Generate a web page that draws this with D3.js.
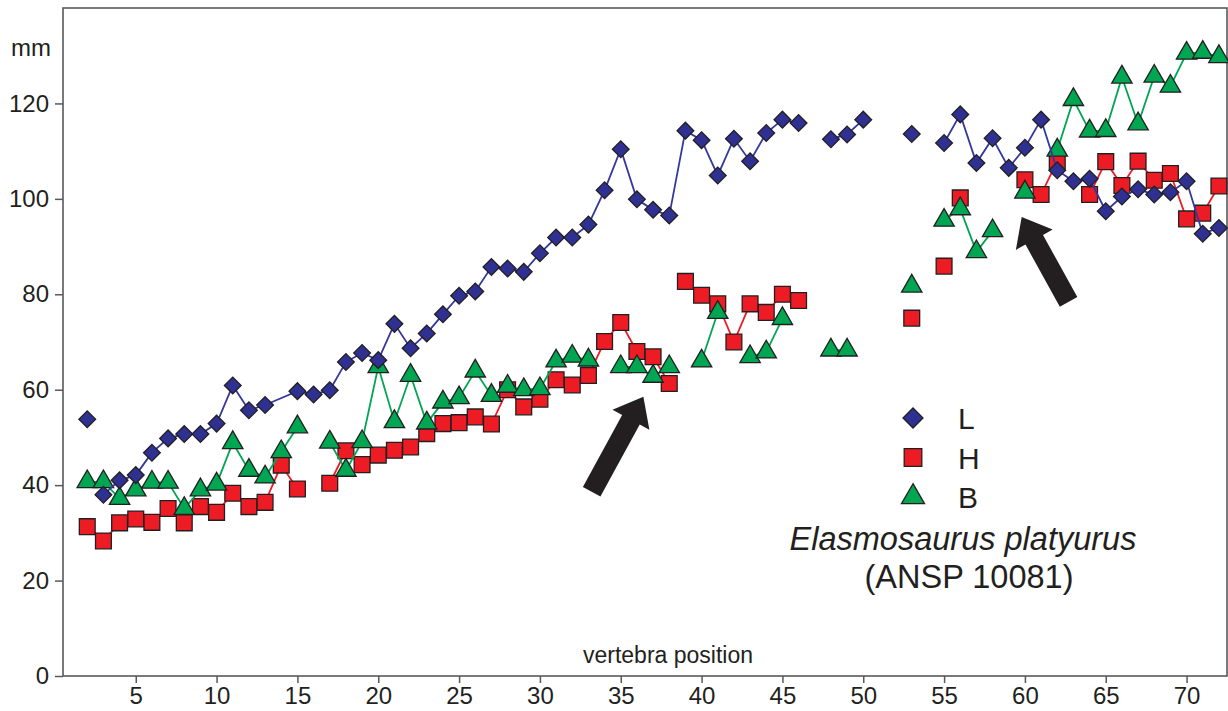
<!DOCTYPE html>
<html>
<head>
<meta charset="utf-8">
<script src="https://cdn.jsdelivr.net/npm/d3@7"></script>
<style>
  body { margin: 0; background: #fff; }
  svg { display: block; }
  text { font-family: "Liberation Sans", Arial, sans-serif; fill: #231f20; }
</style>
</head>
<body>
<svg id="chart"></svg>
<script>
// ---- data (vertebra position 2..72, mm) ----
const positions = d3.range(2, 73);

const valuesL = [
  53.8, 38.0, 41.0, 42.1, 46.8, 49.8, 50.7, 50.7, 52.9, 60.9,
  55.7, 56.8, null, 59.7, 59.0, 59.9, 65.8, 67.7, 66.2, 73.8,
  68.7, 71.8, 75.8, 79.7, 80.6, 85.7, 85.4, 84.7, 88.6, 91.9,
  91.9, 94.6, 101.8, 110.4, 99.9, 97.7, 96.5, 114.3, 112.3, 104.9,
  112.6, 107.9, 113.8, 116.6, 115.9, null, 112.5, 113.5, 116.6, null,
  null, 113.6, null, 111.7, 117.7, 107.5, 112.7, 106.5, 110.7, 116.6,
  106.0, 103.7, 104.2, 97.4, 100.5, 102.0, 100.9, 101.4, 103.7, 92.7,
  93.9
];
const valuesH = [
  31.3, 28.3, 32.1, 32.9, 32.2, 35.1, 32.1, 35.5, 34.3, 38.3,
  35.5, 36.4, 44.2, 39.2, null, 40.4, 47.2, 44.3, 46.3, 47.3,
  48.0, 50.8, 52.9, 53.1, 54.3, 52.8, 60.0, 56.4, 58.0, 62.1,
  61.0, 63.0, 70.1, 74.1, 68.0, 66.9, 61.3, 82.7, 79.8, 78.0,
  70.0, 78.0, 76.2, 80.0, 78.7, null, null, null, null, null,
  null, 75.0, null, 85.9, 100.2, null, null, null, 104.0, 100.9,
  107.9, null, 100.9, 107.8, 102.8, 107.9, 103.9, 105.3, 95.8, 97.0,
  102.7
];
const valuesB = [
  40.7, 40.7, 37.2, 39.0, 40.6, 40.6, 35.1, 39.0, 40.2, 48.9,
  43.1, 41.7, 47.0, 52.2, null, 49.0, 43.1, 49.1, 64.8, 53.3,
  63.0, 53.0, 57.4, 58.3, 63.9, 58.8, 60.7, 60.0, 60.2, 66.0,
  67.0, 66.2, null, 64.8, 64.8, 62.8, 64.8, null, 66.0, 76.2,
  null, 66.9, 67.9, 74.9, null, null, 68.3, 68.3, null, null,
  null, 81.7, null, 95.5, 97.9, 88.9, 93.3, null, 101.4, null,
  110.2, 120.8, 114.2, 114.3, 125.5, 115.7, 125.7, 123.6, 130.5, 130.7,
  129.8
];

// positions after which the connecting line stops
const breaksL = [2, 46, 50, 53];
const breaksH = [15, 38, 46, 53, 55, 56, 62];
const breaksB = [15, 33, 38, 41, 45, 49, 53, 58, 60];

const xTicks = [5, 10, 15, 20, 25, 30, 35, 40, 45, 50, 55, 60, 65, 70];
const yTicks = [0, 20, 40, 60, 80, 100, 120];

// arrows: [fromPos, fromMM, toPos, toMM]
const arrows = [
  [33.2, 38.6, 36.4, 58.5],
  [62.7, 78.4, 59.8, 96.2]
];

// ---- layout ----
const width = 1228;
const height = 711;
const margin = { top: 8, right: 1, bottom: 35, left: 63 };

const svg = d3.select("#chart")
  .attr("width", width)
  .attr("height", height);

const x = d3.scaleLinear()
  .domain([0.5, 72.5])
  .range([margin.left, width - margin.right]);

const y = d3.scaleLinear()
  .domain([0, 140])
  .range([height - margin.bottom, margin.top]);

// frame
svg.append("rect")
  .attr("x", margin.left)
  .attr("y", margin.top)
  .attr("width", width - margin.right - margin.left)
  .attr("height", height - margin.bottom - margin.top)
  .attr("fill", "none")
  .attr("stroke", "#58595b")
  .attr("stroke-width", 1.6);

// axes
const xAxis = svg.append("g")
  .attr("transform", `translate(0,${height - margin.bottom})`)
  .call(d3.axisBottom(x).tickValues(xTicks).tickSize(7).tickPadding(4));

const yAxis = svg.append("g")
  .attr("transform", `translate(${margin.left},0)`)
  .call(d3.axisLeft(y).tickValues(yTicks).tickSize(8).tickPadding(6));

[xAxis, yAxis].forEach(a => {
  a.select(".domain").remove();
  a.selectAll(".tick line").attr("stroke", "#58595b").attr("stroke-width", 1.5);
  a.selectAll(".tick text")
    .attr("font-family", "Liberation Sans, Arial, sans-serif")
    .attr("font-size", 24)
    .attr("fill", "#231f20");
});

svg.append("text")
  .attr("x", 11)
  .attr("y", 56)
  .attr("font-size", 24)
  .text("mm");

svg.append("text")
  .attr("x", 668)
  .attr("y", 663)
  .attr("text-anchor", "middle")
  .attr("font-size", 23)
  .text("vertebra position");

// ---- series ----
const diamond = d3.symbol(d3.symbolSquare, 140)();
const square = d3.symbol(d3.symbolSquare, 250)();
const triangle = d3.symbol(d3.symbolTriangle, 180)();

const series = [
  { key: "H", values: valuesH, breaks: breaksH, fill: "#ed1c24", line: "#ed1c24", shape: square, rot: 0 },
  { key: "B", values: valuesB, breaks: breaksB, fill: "#00a651", line: "#00a651", shape: triangle, rot: 0 },
  { key: "L", values: valuesL, breaks: breaksL, fill: "#2e3192", line: "#34389c", shape: diamond, rot: 45 }
];

const line = d3.line()
  .x(d => x(d.pos))
  .y(d => y(d.val));

series.forEach(s => {
  const pts = positions
    .map((p, i) => ({ pos: p, val: s.values[i] }))
    .filter(d => d.val != null);

  // split into runs at the break positions
  const runs = [];
  let cur = [];
  pts.forEach(d => {
    cur.push(d);
    if (s.breaks.includes(d.pos)) { runs.push(cur); cur = []; }
  });
  if (cur.length) runs.push(cur);

  const g = svg.append("g").attr("class", "series-" + s.key);

  g.selectAll("path.run")
    .data(runs.filter(r => r.length > 1))
    .join("path")
    .attr("class", "run")
    .attr("d", line)
    .attr("fill", "none")
    .attr("stroke", s.line)
    .attr("stroke-width", 1.8);

  g.selectAll("path.mark")
    .data(pts)
    .join("path")
    .attr("class", "mark")
    .attr("d", s.shape)
    .attr("transform", d => `translate(${x(d.pos)},${y(d.val)}) rotate(${s.rot})`)
    .attr("fill", s.fill)
    .attr("stroke", "#231f20")
    .attr("stroke-width", 1.3);
});

// ---- arrows ----
function arrowPath(x0, y0, x1, y1) {
  const dx = x1 - x0, dy = y1 - y0;
  const len = Math.hypot(dx, dy);
  const ux = dx / len, uy = dy / len;
  const px = -uy, py = ux;
  const shaft = 10, head = 21, headLen = 26;
  const bx = x1 - ux * headLen, by = y1 - uy * headLen;
  const pts = [
    [x0 + px * shaft, y0 + py * shaft],
    [bx + px * shaft, by + py * shaft],
    [bx + px * head, by + py * head],
    [x1, y1],
    [bx - px * head, by - py * head],
    [bx - px * shaft, by - py * shaft],
    [x0 - px * shaft, y0 - py * shaft]
  ];
  return "M" + pts.map(p => p.join(",")).join("L") + "Z";
}

svg.append("g")
  .selectAll("path")
  .data(arrows)
  .join("path")
  .attr("d", a => arrowPath(x(a[0]), y(a[1]), x(a[2]), y(a[3])))
  .attr("fill", "#231f20");

// ---- legend ----
const legend = svg.append("g").attr("transform", "translate(913,418)");
const legendOrder = ["L", "H", "B"];

const items = legend.selectAll("g")
  .data(legendOrder.map(k => series.find(s => s.key === k)))
  .join("g")
  .attr("transform", (d, i) => `translate(0,${i * 39.5})`);

items.append("path")
  .attr("d", d => d.key === "L" ? d3.symbol(d3.symbolSquare, 200)()
                : d.key === "H" ? d3.symbol(d3.symbolSquare, 310)()
                : d3.symbol(d3.symbolTriangle, 230)())
  .attr("transform", d => `rotate(${d.rot})`)
  .attr("fill", d => d.fill)
  .attr("stroke", "#231f20")
  .attr("stroke-width", 1.3);

items.append("text")
  .attr("x", 45)
  .attr("y", 11)
  .attr("font-size", 30)
  .text(d => d.key);

svg.append("text")
  .attr("x", 963)
  .attr("y", 550)
  .attr("text-anchor", "middle")
  .attr("font-size", 32.5)
  .attr("font-style", "italic")
  .text("Elasmosaurus platyurus");

svg.append("text")
  .attr("x", 969)
  .attr("y", 588)
  .attr("text-anchor", "middle")
  .attr("font-size", 32.5)
  .text("(ANSP 10081)");
</script>
</body>
</html>
